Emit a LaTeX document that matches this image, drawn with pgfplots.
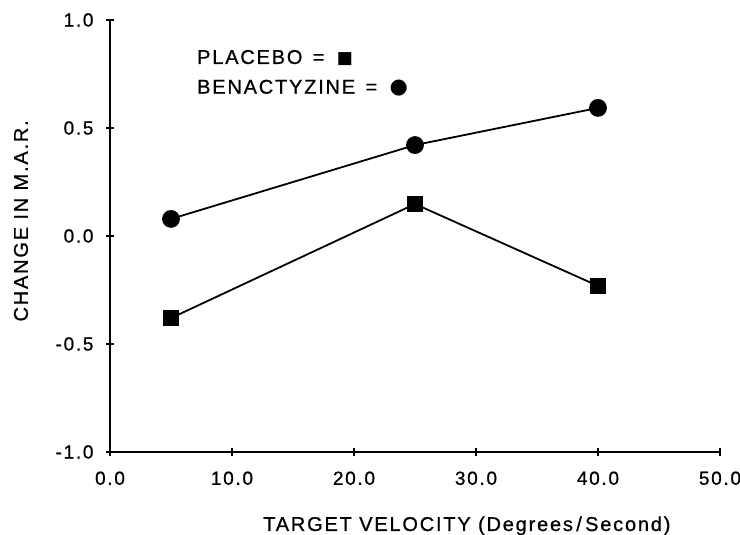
\documentclass[border=0pt]{standalone}
\usepackage{pgfplots}
\pgfplotsset{compat=1.18}
\usepackage{fontspec}
\setmainfont[LetterSpace=9, FakeBold=0.8]{Liberation Sans}
\newfontfamily\symfont{DejaVu Sans}

% Change in M.A.R. by target velocity
\pgfplotstableread{
x y
5 -0.380
25 0.148
40 -0.231
}\placebo
\pgfplotstableread{
x y
5 0.079
25 0.421
40 0.593
}\benactyzine

\begin{document}
\begin{tikzpicture}[x=1pt,y=1pt]
\begin{axis}[
  at={(0,0)}, anchor=south west,
  scale only axis,
  width=610pt, height=432pt,
  xmin=0, xmax=50, ymin=-1, ymax=1,
  axis lines=left,
  axis line style={-, line width=2pt},
  xtick={0,10,...,50}, ytick={-1,-0.5,0,0.5,1},
  tick align=center,
  major tick length=8pt,
  tick style={line width=1.6pt, black},
  xticklabel style={font=\fontsize{19}{21}\selectfont, yshift=-12pt},
  yticklabel style={font=\fontsize{19}{21}\selectfont, xshift=-9pt},
  /pgf/number format/assume math mode=true,
  /pgf/number format/.cd, fixed, fixed zerofill, precision=1,
  /pgfplots/.cd,
  xlabel={TARGET VELOCITY (Degrees\,/\,Second)},
  ylabel={CHANGE IN M.A.R.},
  label style={font=\fontsize{20}{22}\selectfont},
  xlabel style={at={(axis description cs:0.585,0)}, anchor=base, yshift=-79pt},
  ylabel style={at={(axis description cs:0,0.535)}, anchor=center, yshift=89pt},
  clip=false,
]
\addplot[black, line width=1.8pt, mark=square*, mark size=7pt,
  mark options={solid, fill=black}] table[x=x,y=y]{\placebo};
\addplot[black, line width=1.8pt, mark=*, mark size=8pt,
  mark options={solid, fill=black}] table[x=x,y=y]{\benactyzine};
\node[anchor=west, font=\fontsize{20}{22}\selectfont, inner sep=0pt]
  at (axis cs:7.13,0.824)
  {PLACEBO\hspace{3pt} =\hspace{5pt} {\symfont\fontsize{17}{20}\selectfont ■}};
\node[anchor=west, font=\fontsize{20}{22}\selectfont, inner sep=0pt]
  at (axis cs:7.13,0.685)
  {BENACTYZINE\hspace{3pt} =\hspace{5pt} {\symfont\fontsize{21}{24}\selectfont ●}};
\end{axis}
\pgfresetboundingbox
\path (-110pt,-83pt) rectangle (630pt,452pt);
\end{tikzpicture}
\end{document}
